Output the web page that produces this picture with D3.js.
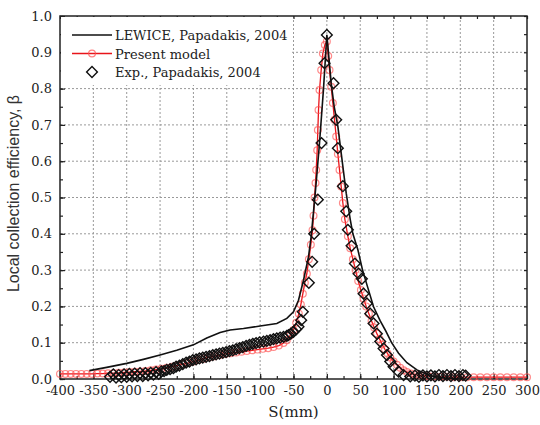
<!DOCTYPE html>
<html>
<head>
<meta charset="utf-8">
<script src="https://cdn.jsdelivr.net/npm/d3@7"></script>
<style>
  body { margin: 0; background: #fff; }
  svg { display: block; }
</style>
</head>
<body>
<div class="chart"></div>
<script>
// LEWICE, Papadakis 2004 (solid black line)
var lewiceS = [-356, -330, -300, -275, -250, -225, -200, -180, -160, -145, -125, -100, -75, -60, -50, -42.5, -35, -27.5, -23.5, -17, -11, -5, 0,
  6.5, 11, 16.5, 21.5, 29, 35, 39, 46.5, 53.5, 60, 70, 80, 87.5, 97, 107.5, 120, 135, 150, 160, 175, 190, 200];
var lewiceB = [0.023, 0.032, 0.043, 0.054, 0.066, 0.079, 0.094, 0.113, 0.128, 0.135, 0.139, 0.146, 0.153, 0.167, 0.185, 0.217, 0.272, 0.337, 0.393, 0.52, 0.65, 0.8, 0.948,
  0.815, 0.75, 0.696, 0.622, 0.512, 0.44, 0.40, 0.356, 0.30, 0.26, 0.199, 0.16, 0.135, 0.10, 0.071, 0.045, 0.025, 0.013, 0.007, 0.003, 0.001, 0.0];

// Present model (red line with open circles)
var modelS = [-400, -392, -384, -376, -368, -360, -352, -344, -336, -328, -320, -312, -304, -296, -288, -280, -272, -264, -256, -248,
  -240, -232, -224, -216, -208, -200, -192, -184, -176, -168, -160, -152, -144, -136, -128, -120, -112, -104, -96, -88,
  -80, -72, -65, -60, -55, -50, -46, -42, -39, -36, -33, -30, -27, -24, -21.5, -20, -18.5, -17, -16, -14.5,
  -13.5, -12.5, -11, -8.5, -6, -3, 0, 2, 4, 6.5, 9, 11.5, 14, 16.5, 19, 21.5, 24, 27, 31.5, 35,
  39, 43, 47, 51, 55, 59, 63, 67, 71, 75, 79, 83, 87, 91, 95, 100, 105, 110, 115, 120,
  126, 132, 138, 145, 152, 160, 170, 180, 190, 200, 210, 220, 230, 240, 250, 260, 270, 280, 290, 300];
var modelB = [0.014, 0.014, 0.014, 0.014, 0.014, 0.014, 0.014, 0.015, 0.015, 0.016, 0.016, 0.017, 0.018, 0.019, 0.02, 0.021, 0.022, 0.024, 0.026, 0.028,
  0.031, 0.034, 0.037, 0.041, 0.044, 0.048, 0.052, 0.056, 0.06, 0.063, 0.066, 0.069, 0.071, 0.073, 0.075, 0.077, 0.079, 0.081, 0.083, 0.085,
  0.088, 0.092, 0.099, 0.107, 0.12, 0.135, 0.155, 0.18, 0.205, 0.235, 0.265, 0.29, 0.33, 0.37, 0.41, 0.45, 0.5, 0.54, 0.576, 0.63,
  0.686, 0.741, 0.796, 0.851, 0.897, 0.92, 0.93, 0.89, 0.851, 0.805, 0.76, 0.714, 0.668, 0.62, 0.576, 0.53, 0.485, 0.44, 0.393, 0.36,
  0.33, 0.30, 0.27, 0.245, 0.222, 0.20, 0.18, 0.16, 0.142, 0.125, 0.11, 0.095, 0.082, 0.07, 0.059, 0.048, 0.039, 0.031, 0.024, 0.019,
  0.015, 0.012, 0.010, 0.009, 0.008, 0.007, 0.006, 0.006, 0.005, 0.005, 0.005, 0.005, 0.005, 0.005, 0.005, 0.005, 0.005, 0.005, 0.005, 0.005];

// Exp., Papadakis 2004 (open diamonds)
var expS = [-325, -320, -316, -312, -308, -304, -300, -296, -292, -288, -284, -280, -276, -272, -268, -264, -260, -256, -252, -248,
  -244, -240, -235, -230, -226, -221, -216, -211, -206, -201, -196, -191, -186, -181, -176, -171, -166, -161, -156, -151,
  -146, -141, -136, -131, -126, -121, -116, -111, -106, -101, -95, -90, -85, -80, -75, -70, -65, -60, -57.5, -54,
  -50, -46, -42.5, -38.5, -36, -27, -22, -19, -13.5, -8, -3.5, 0,
  10, 14, 16.5, 24, 29, 31.5, 37, 42, 47.5, 52.5, 55, 60, 65, 70, 75, 80, 85, 90,
  95, 100, 107.5, 115, 125, 132, 138, 144, 150, 156, 162, 168, 174, 180, 186, 192, 198, 204, 208];
var expB = [0.006, 0.013, 0.004, 0.011, 0.005, 0.013, 0.006, 0.014, 0.007, 0.015, 0.008, 0.016, 0.008, 0.016, 0.010, 0.017, 0.012, 0.019, 0.014, 0.021,
  0.022, 0.025, 0.027, 0.030, 0.034, 0.037, 0.041, 0.045, 0.048, 0.052, 0.054, 0.057, 0.059, 0.061, 0.063, 0.066, 0.068, 0.070, 0.072, 0.074,
  0.077, 0.079, 0.082, 0.085, 0.088, 0.091, 0.094, 0.097, 0.099, 0.101, 0.103, 0.105, 0.107, 0.110, 0.112, 0.114, 0.116, 0.119, 0.121, 0.125,
  0.13, 0.137, 0.144, 0.162, 0.185, 0.265, 0.323, 0.40, 0.494, 0.65, 0.87, 0.948,
  0.815, 0.714, 0.636, 0.531, 0.462, 0.411, 0.367, 0.318, 0.29, 0.276, 0.235, 0.208, 0.18, 0.153, 0.125, 0.103, 0.084, 0.066,
  0.048, 0.034, 0.020, 0.011, 0.007, 0.009, 0.006, 0.010, 0.007, 0.010, 0.007, 0.011, 0.008, 0.011, 0.008, 0.011, 0.008, 0.011, 0.009];

var xTicks = [-400, -350, -300, -250, -200, -150, -100, -50, 0, 50, 100, 150, 200, 250, 300];
var yTicks = [0.0, 0.1, 0.2, 0.3, 0.4, 0.5, 0.6, 0.7, 0.8, 0.9, 1.0];

var seriesNames = ["LEWICE, Papadakis, 2004", "Present model", "Exp., Papadakis, 2004"];

var serif = "'DejaVu Serif', serif";

var width = 540,
    height = 425,
    margin = {top: 16, right: 13, bottom: 46, left: 60},
    w = width - margin.left - margin.right,
    h = height - margin.top - margin.bottom;

var svg = d3.select(".chart").append("svg")
    .attr("width", width)
    .attr("height", height)
  .append("g")
    .attr("transform", "translate(" + margin.left + "," + margin.top + ")");

var x = d3.scaleLinear().domain([-400, 300]).range([0, w]);
var y = d3.scaleLinear().domain([0, 1]).range([h, 0]);

// grid (dotted)
svg.append("g").selectAll("line")
    .data(xTicks.slice(1, -1))
  .enter().append("line")
    .attr("x1", function(d) { return x(d); })
    .attr("x2", function(d) { return x(d); })
    .attr("y1", 0).attr("y2", h)
    .attr("stroke", "#999").attr("stroke-width", 1).attr("stroke-dasharray", "2,2");

svg.append("g").selectAll("line")
    .data(yTicks.slice(1, -1))
  .enter().append("line")
    .attr("y1", function(d) { return y(d); })
    .attr("y2", function(d) { return y(d); })
    .attr("x1", 0).attr("x2", w)
    .attr("stroke", "#999").attr("stroke-width", 1).attr("stroke-dasharray", "2,2");

// axes, ticks pointing inward
var xMinor = d3.range(-400, 301, 25);
var yMinor = d3.range(0, 1.001, 0.05);

function axisStyle(g) {
  g.attr("font-family", serif).attr("font-size", 13);
  g.select(".domain").remove();
  g.selectAll(".tick line").attr("stroke", "#222").attr("stroke-width", 1.2);
  g.selectAll(".tick text").attr("fill", "#222");
}

svg.append("g")
    .attr("transform", "translate(0," + h + ")")
    .call(d3.axisBottom(x).tickValues(xTicks).tickSizeInner(-5).tickSizeOuter(0).tickPadding(7)
      .tickFormat(function(d) { return String(d); }))
    .call(axisStyle);
svg.append("g")
    .attr("transform", "translate(0," + h + ")")
    .call(d3.axisBottom(x).tickValues(xMinor).tickSize(-3).tickFormat(""))
    .call(axisStyle);
svg.append("g")
    .call(d3.axisTop(x).tickValues(xMinor).tickSize(-3).tickFormat(""))
    .call(axisStyle);

svg.append("g")
    .call(d3.axisLeft(y).tickValues(yTicks).tickSizeInner(-5).tickSizeOuter(0).tickPadding(8).tickFormat(d3.format(".1f")))
    .call(axisStyle);
svg.append("g")
    .call(d3.axisLeft(y).tickValues(yMinor).tickSize(-3).tickFormat(""))
    .call(axisStyle);
svg.append("g")
    .attr("transform", "translate(" + w + ",0)")
    .call(d3.axisRight(y).tickValues(yMinor).tickSize(-3).tickFormat(""))
    .call(axisStyle);

// frame
svg.append("rect")
    .attr("width", w).attr("height", h)
    .attr("fill", "none").attr("stroke", "#222").attr("stroke-width", 1.5);

var line = d3.line()
    .x(function(d) { return x(d[0]); })
    .y(function(d) { return y(d[1]); });

var lewice = d3.zip(lewiceS, lewiceB),
    model = d3.zip(modelS, modelB),
    exp = d3.zip(expS, expB);

// present model
svg.append("path")
    .datum(model)
    .attr("d", line)
    .attr("fill", "none").attr("stroke", "#e8141a").attr("stroke-width", 1.3);

svg.append("g").selectAll("circle")
    .data(model)
  .enter().append("circle")
    .attr("cx", function(d) { return x(d[0]); })
    .attr("cy", function(d) { return y(d[1]); })
    .attr("r", 3.4)
    .attr("fill", "none").attr("stroke", "#ff4b4b").attr("stroke-opacity", 0.65).attr("stroke-width", 1.2);

// LEWICE
svg.append("path")
    .datum(lewice)
    .attr("d", line)
    .attr("fill", "none").attr("stroke", "#111").attr("stroke-width", 1.6);

// experiment
var diamond = d3.symbol().type(d3.symbolSquare).size(58);

svg.append("g").selectAll("path")
    .data(exp)
  .enter().append("path")
    .attr("d", diamond)
    .attr("transform", function(d) { return "translate(" + x(d[0]) + "," + y(d[1]) + ") rotate(45)"; })
    .attr("fill", "none").attr("stroke", "#111").attr("stroke-width", 1.4);

// legend
var legend = svg.append("g").attr("transform", "translate(1,1)");
legend.append("rect")
    .attr("width", 230).attr("height", 68)
    .attr("fill", "#fff");

var items = legend.selectAll("g.item")
    .data(seriesNames)
  .enter().append("g")
    .attr("class", "item")
    .attr("transform", function(d, i) { return "translate(0," + (18 + i * 18.5) + ")"; });

items.append("text")
    .attr("x", 54).attr("y", 5)
    .attr("font-family", serif)
    .attr("font-size", 13)
    .attr("fill", "#222")
    .text(function(d) { return d; });

items.filter(function(d, i) { return i === 0; }).append("line")
    .attr("x1", 11).attr("x2", 51)
    .attr("stroke", "#111").attr("stroke-width", 1.6);

var modelItem = items.filter(function(d, i) { return i === 1; });
modelItem.append("line")
    .attr("x1", 11).attr("x2", 51)
    .attr("stroke", "#e8141a").attr("stroke-width", 1.3);
modelItem.append("circle")
    .attr("cx", 31).attr("r", 3.4)
    .attr("fill", "none").attr("stroke", "#ff4b4b").attr("stroke-opacity", 0.7).attr("stroke-width", 1.2);

items.filter(function(d, i) { return i === 2; }).append("path")
    .attr("d", diamond)
    .attr("transform", "translate(31,0) rotate(45)")
    .attr("fill", "none").attr("stroke", "#111").attr("stroke-width", 1.4);

// axis titles
svg.append("text")
    .attr("x", w / 2).attr("y", h + 38)
    .attr("text-anchor", "middle")
    .attr("font-family", serif)
    .attr("font-size", 15)
    .attr("fill", "#222")
    .text("S(mm)");

svg.append("text")
    .attr("transform", "translate(" + (-41) + "," + (h / 2 - 4) + ") rotate(-90)")
    .attr("text-anchor", "middle")
    .attr("font-family", "'Liberation Sans', 'DejaVu Sans', sans-serif")
    .attr("font-size", 16)
    .attr("fill", "#333")
    .text("Local collection efficiency, \u03b2");
</script>
</body>
</html>
